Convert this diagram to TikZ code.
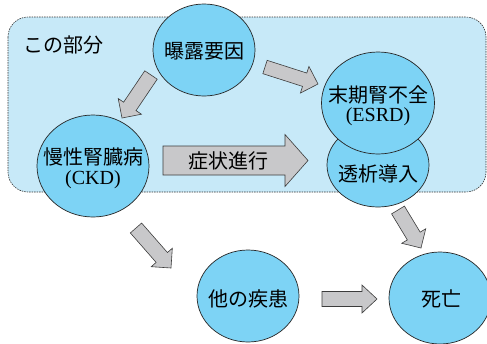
\documentclass[tikz,border=0pt]{standalone}
\usepackage{fontspec}
\setmainfont{Liberation Serif}
\newfontfamily\jp{Noto Sans CJK JP}
\usetikzlibrary{shapes.geometric,calc}
\definecolor{boxfill}{RGB}{199,233,248}
\definecolor{circfill}{RGB}{125,211,245}
\definecolor{arrfill}{RGB}{200,200,202}
\definecolor{arrline}{RGB}{60,60,60}
\tikzset{
  region/.style={draw=black!80, fill=boxfill, dash pattern=on 1.5pt off 1pt, line width=0.6pt, rounded corners=20pt},
  bubble/.style={ellipse, draw=black!85, line width=0.7pt, fill=circfill, inner sep=0pt},
  barrow/.style={draw=arrline, fill=arrfill, line width=0.6pt, line join=miter},
  lbl/.style={font=\jp\fontsize{20}{23}\selectfont, inner sep=0pt, align=center},
  latin/.style={font=\fontsize{20}{23}\selectfont, inner sep=0pt}
}
\newcommand\blockarr[5]{%
  \path ($(#2)!#5!(#1)$) coordinate (hb);
  \draw[barrow] ($(#1)!#3!90:(#2)$) -- ($(hb)!#3!90:(#2)$) -- ($(hb)!#4!90:(#2)$) -- (#2)
    -- ($(hb)!#4!-90:(#2)$) -- ($(hb)!#3!-90:(#2)$) -- ($(#1)!#3!-90:(#2)$) -- cycle;
}
\begin{document}
\begin{tikzpicture}[x=1pt,y=-1pt]
\useasboundingbox (0,0) rectangle (487,343);
\fill[white] (0,0) rectangle (487,343);
% region
\draw[region] (8,17) rectangle (486,192);
\node[lbl, anchor=west] (part) at (23,45) {この部分};
% arrow coordinates
\coordinate (a1s) at (151,75);  \coordinate (a1e) at (122,118);
\coordinate (a2s) at (265,67);  \coordinate (a2e) at (318,84);
\coordinate (a3s) at (163,160.5); \coordinate (a3e) at (308,160.5);
\coordinate (a4s) at (136,228); \coordinate (a4e) at (171,268);
\coordinate (a5s) at (322,299); \coordinate (a5e) at (377,299);
\coordinate (a6s) at (398,210); \coordinate (a6e) at (421,248);
\blockarr{a1s}{a1e}{7.5pt}{14pt}{14pt}
\blockarr{a2s}{a2e}{7pt}{14pt}{14pt}
\blockarr{a3s}{a3e}{14.5pt}{26pt}{23pt}
\blockarr{a4s}{a4e}{7.5pt}{14pt}{14pt}
\blockarr{a5s}{a5e}{7.5pt}{14pt}{15pt}
\blockarr{a6s}{a6e}{7.5pt}{14pt}{14pt}
\node[lbl] (prog) at (228,160.5) {症状進行};
% bubbles
\node[bubble, minimum width=102pt, minimum height=92pt] (expo) at (204,50) {};
\node[lbl] (expot) at (204,51) {曝露要因};
\node[bubble, minimum width=112pt, minimum height=102pt] (ckd) at (93,166) {};
\node[lbl] (ckdt) at (93,157) {慢性腎臓病};
\node[latin] (ckdl) at (93,180) {(CKD)};
\node[bubble, minimum width=102pt, minimum height=84pt] (dial) at (378,165) {};
\node[lbl] (dialt) at (378,174) {透析導入};
\node[bubble, minimum width=113pt, minimum height=102pt] (esrd) at (378,103) {};
\node[lbl] (esrdt) at (378,95) {末期腎不全};
\node[latin] (esrdl) at (378,117) {(ESRD)};
\node[bubble, minimum width=102pt, minimum height=92pt] (other) at (248,296) {};
\node[lbl] (othert) at (248,299) {他の疾患};
\node[bubble, minimum width=102pt, minimum height=92pt] (death) at (440,298) {};
\node[lbl] (deatht) at (441,299) {死亡};
\end{tikzpicture}
\end{document}
